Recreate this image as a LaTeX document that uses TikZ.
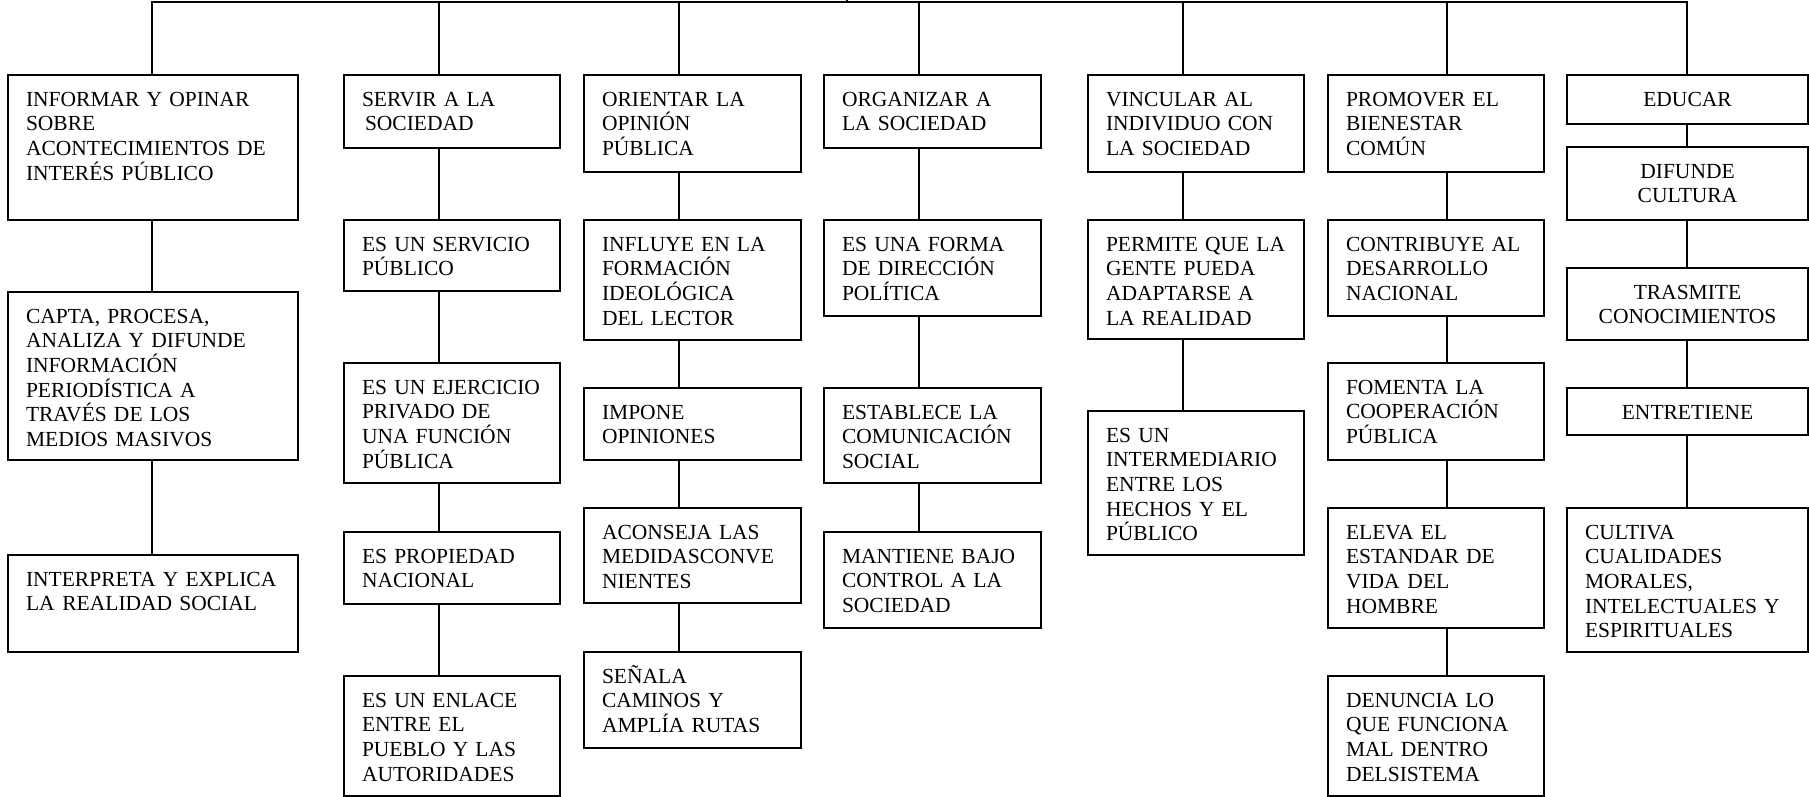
\documentclass[tikz,border=0pt]{standalone}
\usepackage{fontspec}
\setmainfont{Liberation Serif}
\usepackage{tikz}

\tikzset{
  cell/.style 2 args={draw, line width=2pt, anchor=north west, align=left,
    inner xsep=18pt, inner ysep=0pt, text height=31pt,
    text width=#1-36pt, text depth=#2-31pt,
    font=\fontsize{21.5}{24.7}\selectfont},
  mid/.style={align=center},
  link/.style={line width=2pt, line cap=rect}
}

\begin{document}
\begin{tikzpicture}[x=1pt, y=-1pt]
        \useasboundingbox (0,0) rectangle (1809,796);

        % barra superior
        \coordinate (root) at (847,0);
        \coordinate (t1) at (152,2);
        \coordinate (t2) at (439,2);
        \coordinate (t3) at (679,2);
        \coordinate (t4) at (919,2);
        \coordinate (t5) at (1183,2);
        \coordinate (t6) at (1447,2);
        \coordinate (t7) at (1687,2);

        % informar y opinar
        \node[cell={290pt}{145pt}] (inf) at (7,74) {INFORMAR Y OPINAR\\SOBRE\\ACONTECIMIENTOS DE\\INTERÉS PÚBLICO};
        \node[cell={290pt}{168pt}] (cap) at (7,291) {CAPTA, PROCESA,\\ANALIZA Y DIFUNDE\\INFORMACIÓN\\PERIODÍSTICA A\\TRAVÉS DE LOS\\MEDIOS MASIVOS};
        \node[cell={290pt}{97pt}] (itp) at (7,554) {INTERPRETA Y EXPLICA\\LA\hspace{.36em}REALIDAD SOCIAL};

        % servir a la sociedad
        \node[cell={216pt}{73pt}] (ser) at (343,74) {SERVIR A LA\\\hspace*{3pt}SOCIEDAD};
        \node[cell={216pt}{71pt}] (spu) at (343,219) {ES UN SERVICIO\\PÚBLICO};
        \node[cell={216pt}{120pt}] (eje) at (343,362) {ES UN EJERCICIO\\PRIVADO DE\\UNA FUNCIÓN\\PÚBLICA};
        \node[cell={216pt}{72pt}] (pro) at (343,531) {ES PROPIEDAD\\NACIONAL};
        \node[cell={216pt}{120pt}] (enl) at (343,675) {ES UN ENLACE\\ENTRE EL\\PUEBLO Y LAS\\AUTORIDADES};

        % orientar la opinion publica
        \node[cell={217pt}{97pt}] (ori) at (583,74) {ORIENTAR LA\\OPINIÓN\\PÚBLICA};
        \node[cell={217pt}{120pt}] (flu) at (583,219) {INFLUYE EN LA\\FORMACIÓN\\IDEOLÓGICA\\DEL LECTOR};
        \node[cell={217pt}{72pt}] (imp) at (583,387) {IMPONE\\OPINIONES};
        \node[cell={217pt}{95pt}] (aco) at (583,507) {ACONSEJA LAS\\MEDIDASCONVE\\NIENTES};
        \node[cell={217pt}{96pt}] (sen) at (583,651) {SEÑALA\\CAMINOS Y\\AMPLÍA RUTAS};

        % organizar a la sociedad
        \node[cell={217pt}{73pt}] (org) at (823,74) {ORGANIZAR A\\LA SOCIEDAD};
        \node[cell={217pt}{96pt}] (dir) at (823,219) {ES UNA FORMA\\DE DIRECCIÓN\\POLÍTICA};
        \node[cell={217pt}{95pt}] (est) at (823,387) {ESTABLECE LA\\COMUNICACIÓN\\SOCIAL};
        \node[cell={217pt}{96pt}] (man) at (823,531) {MANTIENE BAJO\\CONTROL A LA\\SOCIEDAD};

        % vincular al individuo
        \node[cell={216pt}{97pt}] (vin) at (1087,74) {VINCULAR AL\\INDIVIDUO CON\\LA SOCIEDAD};
        \node[cell={216pt}{119pt}] (per) at (1087,219) {PERMITE QUE LA\\GENTE PUEDA\\ADAPTARSE A\\LA REALIDAD};
        \node[cell={216pt}{144pt}] (int) at (1087,410) {ES UN\\INTERMEDIARIO\\ENTRE LOS\\HECHOS Y EL\\PÚBLICO};

        % promover el bienestar
        \node[cell={216pt}{97pt}] (pmv) at (1327,74) {PROMOVER EL\\BIENESTAR\\COMÚN};
        \node[cell={216pt}{96pt}] (con) at (1327,219) {CONTRIBUYE AL\\DESARROLLO\\NACIONAL};
        \node[cell={216pt}{97pt}] (fom) at (1327,362) {FOMENTA LA\\COOPERACIÓN\\PÚBLICA};
        \node[cell={216pt}{120pt}] (ele) at (1327,507) {ELEVA EL\\ESTANDAR DE\\VIDA\hspace{.36em}DEL\\HOMBRE};
        \node[cell={216pt}{120pt}] (den) at (1327,675) {DENUNCIA LO\\QUE FUNCIONA\\MAL DENTRO\\DELSISTEMA};

        % educar
        \node[cell={241pt}{49pt}, mid] (edu) at (1566,74) {EDUCAR};
        \node[cell={241pt}{73pt}, mid] (dif) at (1566,146) {DIFUNDE\\CULTURA};
        \node[cell={241pt}{72pt}, mid] (tra) at (1566,267) {TRASMITE\\CONOCIMIENTOS};
        \node[cell={241pt}{47pt}, mid] (ent) at (1566,387) {ENTRETIENE};
        \node[cell={241pt}{144pt}] (cul) at (1566,507) {CULTIVA\\CUALIDADES\\MORALES,\\INTELECTUALES Y\\ESPIRITUALES};

        % conexiones
        \draw[link] (root) -- (root |- t1);
        \draw[link] (t1) -- (t7);
        \draw[link] (t1) -- (inf.north -| t1) (inf.south -| t1) -- (cap.north -| t1) (cap.south -| t1) -- (itp.north -| t1);
        \draw[link] (t2) -- (ser.north -| t2) (ser.south -| t2) -- (spu.north -| t2) (spu.south -| t2) -- (eje.north -| t2)
            (eje.south -| t2) -- (pro.north -| t2) (pro.south -| t2) -- (enl.north -| t2);
        \draw[link] (t3) -- (ori.north -| t3) (ori.south -| t3) -- (flu.north -| t3) (flu.south -| t3) -- (imp.north -| t3)
            (imp.south -| t3) -- (aco.north -| t3) (aco.south -| t3) -- (sen.north -| t3);
        \draw[link] (t4) -- (org.north -| t4) (org.south -| t4) -- (dir.north -| t4) (dir.south -| t4) -- (est.north -| t4)
            (est.south -| t4) -- (man.north -| t4);
        \draw[link] (t5) -- (vin.north -| t5) (vin.south -| t5) -- (per.north -| t5) (per.south -| t5) -- (int.north -| t5);
        \draw[link] (t6) -- (pmv.north -| t6) (pmv.south -| t6) -- (con.north -| t6) (con.south -| t6) -- (fom.north -| t6)
            (fom.south -| t6) -- (ele.north -| t6) (ele.south -| t6) -- (den.north -| t6);
        \draw[link] (t7) -- (edu.north -| t7) (edu.south -| t7) -- (dif.north -| t7) (dif.south -| t7) -- (tra.north -| t7)
            (tra.south -| t7) -- (ent.north -| t7) (ent.south -| t7) -- (cul.north -| t7);
    \end{tikzpicture}
\end{document}
